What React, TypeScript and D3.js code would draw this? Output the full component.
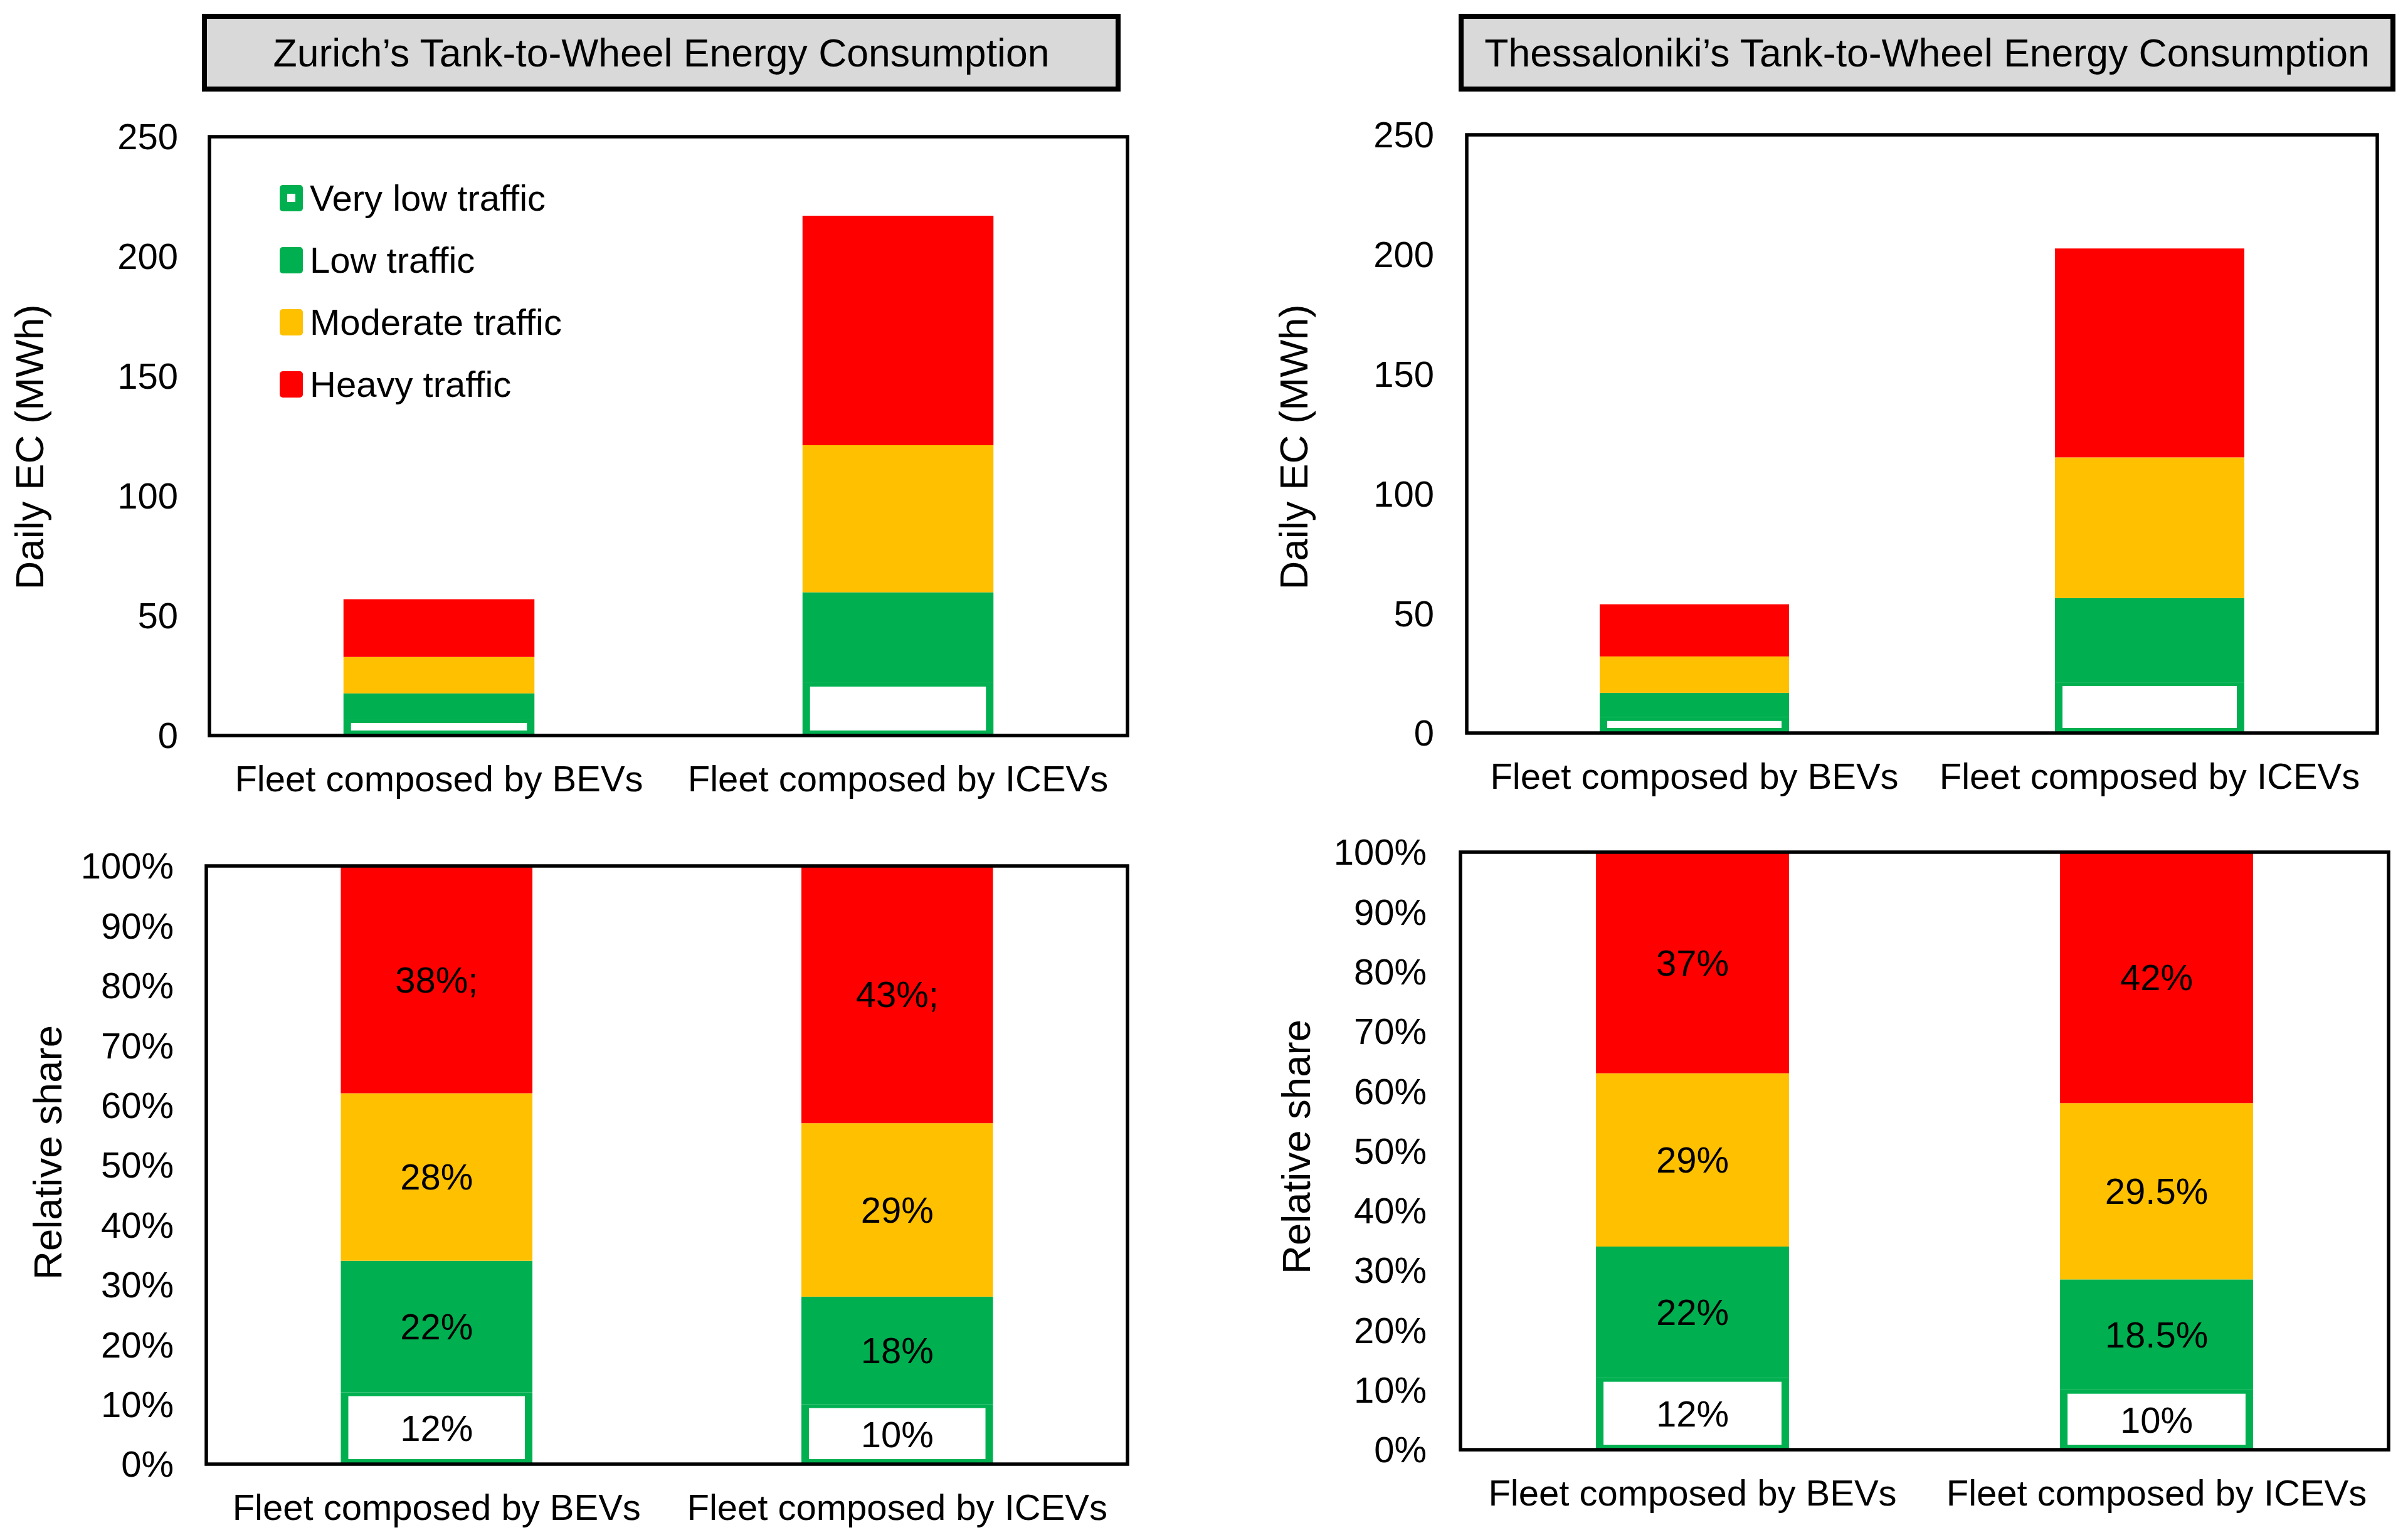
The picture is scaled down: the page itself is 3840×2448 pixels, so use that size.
import React from "react";
import * as d3 from "d3";

// categories
const fleets = ["Fleet composed by BEVs", "Fleet composed by ICEVs"];
const levels = ["Very low traffic", "Low traffic", "Moderate traffic", "Heavy traffic"];
const levelColors = ["#00B050", "#00B050", "#FFC000", "#FF0000"];

// daily energy consumption (MWh), order: very low, low, moderate, heavy
const zurichBEV = [6.8, 10.8, 15.2, 24.1];
const zurichICEV = [22, 37.8, 61.4, 95.8];
const thessBEV = [6.6, 10.2, 15.2, 21.8];
const thessICEV = [21.2, 35.2, 58.8, 87.3];

// relative shares (%)
const zurichShareBEV = [12, 22, 28, 38];
const zurichShareICEV = [10, 18, 29, 43];
const thessShareBEV = [12, 22, 29, 37];
const thessShareICEV = [10, 18.5, 29.5, 42];

const zurichShareLabelsBEV = ["12%", "22%", "28%", "38%;"];
const zurichShareLabelsICEV = ["10%", "18%", "29%", "43%;"];
const thessShareLabelsBEV = ["12%", "22%", "29%", "37%"];
const thessShareLabelsICEV = ["10%", "18.5%", "29.5%", "42%"];

const FONT = "'Liberation Sans', Arial, Helvetica, sans-serif";
const FS = 58;

interface PanelProps {
  left: number;
  right: number;
  top: number;
  bottom: number;
  max: number;
  tickCount: number;
  tickFmt: (v: number) => string;
  values: number[][];
  labels?: string[][];
  yTitle: string;
  yTitleX: number;
  yTitleY: number;
  tickGap: number;
  legend?: boolean;
}

const Panel: React.FC<PanelProps> = ({
  left,
  right,
  top,
  bottom,
  max,
  tickCount,
  tickFmt,
  values,
  labels,
  yTitle,
  yTitleX,
  yTitleY,
  tickGap,
  legend,
}) => {
  const x = d3
    .scaleBand<string>()
    .domain(fleets)
    .range([left, right])
    .paddingInner(0.584)
    .paddingOuter(0.292);
  const y = d3.scaleLinear().domain([0, max]).range([bottom, top]);
  const bw = x.bandwidth();
  // border of the "very low" box: sides, top, bottom
  const side = 12;
  const topB = 6;
  const botB = 8;

  return (
    <g>
      {fleets.map((f, i) => {
        const cum = [0, ...Array.from(d3.cumsum(values[i]))];
        const bx = x(f) as number;
        return (
          <g key={f}>
            {values[i].map((v, k) => {
              const y0 = y(cum[k]);
              const y1 = y(cum[k + 1]);
              if (k === 0) {
                return (
                  <g key={k}>
                    <rect x={bx} y={y1} width={bw} height={y0 - y1} fill={levelColors[0]} />
                    <rect
                      x={bx + side}
                      y={y1 + topB}
                      width={bw - 2 * side}
                      height={Math.max(0, y0 - y1 - topB - botB)}
                      fill="#fff"
                    />
                  </g>
                );
              }
              return (
                <rect
                  key={k}
                  x={bx}
                  y={y1}
                  width={bw}
                  height={y0 - y1}
                  fill={levelColors[k]}
                />
              );
            })}
            {labels &&
              labels[i].map((t, k) => (
                <text
                  key={"l" + k}
                  x={bx + bw / 2}
                  y={y((cum[k] + cum[k + 1]) / 2)}
                  dy="0.35em"
                  textAnchor="middle"
                  fontSize={FS}
                  fill="#000"
                >
                  {t}
                </text>
              ))}
          </g>
        );
      })}
      <rect
        x={left}
        y={top}
        width={right - left}
        height={bottom - top}
        fill="none"
        stroke="#000"
        strokeWidth={5.5}
      />
      {y.ticks(tickCount).map((t) => (
        <text
          key={t}
          x={left - tickGap}
          y={y(t)}
          dy="0.35em"
          textAnchor="end"
          fontSize={FS}
          fill="#000"
        >
          {tickFmt(t)}
        </text>
      ))}
      {fleets.map((f) => (
        <text
          key={f}
          x={(x(f) as number) + bw / 2}
          y={bottom + 69}
          dy="0.35em"
          textAnchor="middle"
          fontSize={FS}
          fill="#000"
        >
          {f}
        </text>
      ))}
      <text
        transform={`translate(${yTitleX},${yTitleY}) rotate(-90)`}
        dy="0.35em"
        textAnchor="middle"
        fontSize={63.5}
        fill="#000"
      >
        {yTitle}
      </text>
      {legend &&
        levels.map((l, k) => {
          const ly = 316 + k * 99;
          return (
            <g key={l}>
              <rect x={446} y={ly - 21} width={37} height={42} rx={5} fill={levelColors[k]} />
              {k === 0 && <rect x={458} y={ly - 7} width={13} height={13} fill="#fff" />}
              <text x={494} y={ly} dy="0.35em" fontSize={FS} fill="#000">
                {l}
              </text>
            </g>
          );
        })}
    </g>
  );
};

const TitleBox: React.FC<{ x0: number; x1: number; text: string }> = ({ x0, x1, text }) => (
  <g>
    <rect x={x0} y={26} width={x1 - x0} height={116} fill="#D9D9D9" stroke="#000" strokeWidth={8} />
    <text x={(x0 + x1) / 2} y={84} dy="0.35em" textAnchor="middle" fontSize={62.5} fill="#000">
      {text}
    </text>
  </g>
);

const pct = (v: number) => `${v}%`;
const num = (v: number) => `${v}`;

export default function App() {
  return (
    <svg
      width={3840}
      height={2448}
      style={{ position: "absolute", left: 0, top: 0, background: "#fff" }}
      fontFamily={FONT}
    >
      <rect width={3840} height={2448} fill="#fff" />
      <TitleBox x0={326} x1={1783} text={"Zurich\u2019s Tank-to-Wheel Energy Consumption"} />
      <TitleBox x0={2330} x1={3816} text={"Thessaloniki\u2019s Tank-to-Wheel Energy Consumption"} />

      <Panel
        left={334}
        right={1798}
        top={218}
        bottom={1173}
        max={250}
        tickCount={5}
        tickFmt={num}
        values={[zurichBEV, zurichICEV]}
        yTitle="Daily EC (MWh)"
        yTitleX={47}
        yTitleY={713}
        tickGap={50}
        legend
      />
      <Panel
        left={2339}
        right={3791}
        top={215}
        bottom={1169}
        max={250}
        tickCount={5}
        tickFmt={num}
        values={[thessBEV, thessICEV]}
        yTitle="Daily EC (MWh)"
        yTitleX={2063}
        yTitleY={713}
        tickGap={52}
      />
      <Panel
        left={329}
        right={1798}
        top={1381}
        bottom={2335}
        max={100}
        tickCount={10}
        tickFmt={pct}
        values={[zurichShareBEV, zurichShareICEV]}
        labels={[zurichShareLabelsBEV, zurichShareLabelsICEV]}
        yTitle="Relative share"
        yTitleX={76}
        yTitleY={1838}
        tickGap={52}
      />
      <Panel
        left={2329}
        right={3809}
        top={1359}
        bottom={2312}
        max={100}
        tickCount={10}
        tickFmt={pct}
        values={[thessShareBEV, thessShareICEV]}
        labels={[thessShareLabelsBEV, thessShareLabelsICEV]}
        yTitle="Relative share"
        yTitleX={2067}
        yTitleY={1829}
        tickGap={54}
      />
    </svg>
  );
}
